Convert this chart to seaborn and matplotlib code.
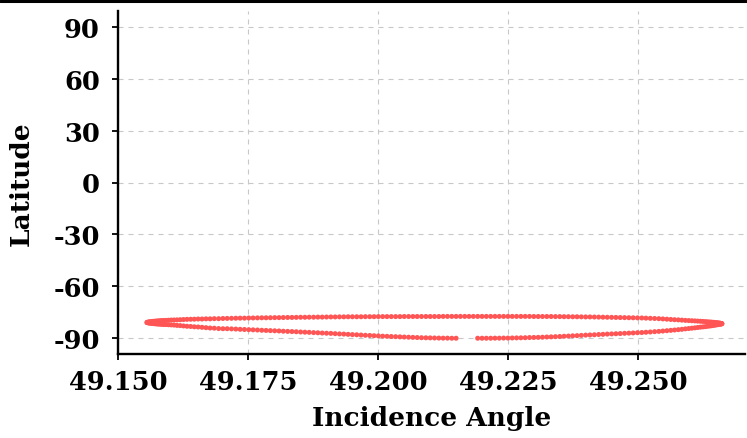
import numpy as np
import pandas as pd
import matplotlib
matplotlib.use("Agg")
import matplotlib.pyplot as plt
from matplotlib.lines import Line2D
import seaborn as sns

# ---------------- data ----------------
incidence = [
    49.15558, 49.15568, 49.15581, 49.15596, 49.15616, 49.15639, 49.15664, 49.15693, 49.15723, 49.15758,
    49.15795, 49.15835, 49.15877, 49.15923, 49.15972, 49.16023, 49.16077, 49.16135, 49.16196, 49.16260,
    49.16327, 49.16397, 49.16468, 49.16541, 49.16616, 49.16693, 49.16771, 49.16852, 49.16935, 49.17018,
    49.17100, 49.17183, 49.17266, 49.17349, 49.17432, 49.17515, 49.17598, 49.17682, 49.17765, 49.17848,
    49.17931, 49.18014, 49.18097, 49.18180, 49.18263, 49.18346, 49.18429, 49.18512, 49.18595, 49.18678,
    49.18762, 49.18845, 49.18928, 49.19011, 49.19094, 49.19177, 49.19260, 49.19343, 49.19426, 49.19509,
    49.19592, 49.19675, 49.19758, 49.19842, 49.19925, 49.20008, 49.20091, 49.20174, 49.20257, 49.20340,
    49.20423, 49.20506, 49.20589, 49.20672, 49.20755, 49.20838, 49.20922, 49.21005, 49.21088, 49.21171,
    49.21254, 49.21337, 49.21420, 49.21503, 49.21586, 49.21669, 49.21752, 49.21835, 49.21918, 49.22002,
    49.22085, 49.22168, 49.22251, 49.22334, 49.22417, 49.22500, 49.22583, 49.22666, 49.22749, 49.22832,
    49.22915, 49.22998, 49.23082, 49.23165, 49.23248, 49.23331, 49.23414, 49.23497, 49.23580, 49.23663,
    49.23746, 49.23829, 49.23912, 49.23995, 49.24078, 49.24162, 49.24245, 49.24328, 49.24411, 49.24494,
    49.24577, 49.24660, 49.24743, 49.24826, 49.24909, 49.24992, 49.25075,
    49.25155, 49.25238, 49.25321, 49.25402, 49.25480, 49.25557, 49.25632, 49.25705, 49.25777, 49.25846,
    49.25913, 49.25977, 49.26038, 49.26096, 49.26150, 49.26202, 49.26250, 49.26296, 49.26338, 49.26379,
    49.26415, 49.26450, 49.26480, 49.26509, 49.26534, 49.26557, 49.26577, 49.26592, 49.26605, 49.26615,
]

latitude_upper = [
    -80.8, -80.7, -80.6, -80.5, -80.4, -80.3, -80.2, -80.1, -80.0, -79.9,
    -79.8, -79.7, -79.65, -79.6, -79.5, -79.4, -79.35, -79.3, -79.2, -79.1,
    -79.0, -78.95, -78.9, -78.8, -78.8, -78.7, -78.7, -78.6, -78.6, -78.5,
    -78.45, -78.4, -78.35, -78.3, -78.3, -78.2, -78.2, -78.15, -78.1, -78.1,
    -78.05, -78.0, -78.0, -77.95, -77.9, -77.9, -77.85, -77.8, -77.8, -77.75,
    -77.75, -77.7, -77.7, -77.65, -77.6, -77.6, -77.55, -77.55, -77.5, -77.5,
    -77.5, -77.5, -77.45, -77.45, -77.45, -77.4, -77.4, -77.4, -77.4, -77.4,
    -77.4, -77.35, -77.35, -77.35, -77.35, -77.35, -77.35, -77.35, -77.35, -77.35,
    -77.3, -77.3, -77.3, -77.3, -77.3, -77.3, -77.3, -77.3, -77.3, -77.3,
    -77.3, -77.3, -77.3, -77.3, -77.3, -77.3, -77.3, -77.3, -77.3, -77.3,
    -77.3, -77.35, -77.35, -77.35, -77.35, -77.35, -77.4, -77.4, -77.45, -77.45,
    -77.5, -77.5, -77.55, -77.6, -77.6, -77.65, -77.7, -77.75, -77.8, -77.85,
    -77.9, -77.95, -78.0, -78.05, -78.1, -78.15, -78.2,
    -78.3, -78.4, -78.5, -78.6, -78.75, -78.9, -79.05, -79.2, -79.3, -79.45,
    -79.6, -79.7, -79.8, -79.9, -80.0, -80.1, -80.2, -80.3, -80.4, -80.5,
    -80.6, -80.7, -80.8, -80.9, -81.0, -81.1, -81.2, -81.3, -81.4, -81.5,
]

latitude_lower = [
    -80.8, -80.9, -81.0, -81.1, -81.2, -81.3, -81.4, -81.5, -81.6, -81.7,
    -81.8, -81.9, -82.0, -82.0, -82.1, -82.2, -82.3, -82.5, -82.6, -82.8,
    -83.0, -83.1, -83.3, -83.4, -83.6, -83.8, -84.0, -84.1, -84.3, -84.4,
    -84.4, -84.5, -84.6, -84.75, -84.85, -84.95, -85.05, -85.15, -85.3, -85.4,
    -85.5, -85.6, -85.7, -85.85, -85.95, -86.05, -86.15, -86.3, -86.4, -86.5,
    -86.65, -86.75, -86.9, -87.0, -87.1, -87.25, -87.4, -87.5, -87.65, -87.8,
    -87.9, -88.05, -88.2, -88.3, -88.45, -88.55, -88.7, -88.8, -88.9, -89.0,
    -89.1, -89.2, -89.3, -89.4, -89.5, -89.6, -89.65, -89.7, -89.75, -89.8,
    -89.85, -89.85, -89.9, -89.9, np.nan, np.nan, np.nan, np.nan, -89.9, -89.9,
    -89.9, -89.9, -89.85, -89.85, -89.8, -89.8, -89.75, -89.7, -89.65, -89.6,
    -89.5, -89.45, -89.4, -89.3, -89.2, -89.1, -89.0, -88.9, -88.75, -88.65,
    -88.5, -88.4, -88.25, -88.1, -88.0, -87.9, -87.75, -87.65, -87.5, -87.4,
    -87.3, -87.2, -87.05, -86.95, -86.85, -86.7, -86.6,
    -86.45, -86.3, -86.1, -85.95, -85.75, -85.55, -85.35, -85.15, -84.95, -84.75,
    -84.5, -84.3, -84.1, -83.9, -83.7, -83.5, -83.35, -83.2, -83.0, -82.85,
    -82.7, -82.5, -82.35, -82.2, -82.05, -81.9, -81.8, -81.7, -81.6, -81.5,
]

x_ticks = [49.150, 49.175, 49.200, 49.225, 49.250]
y_ticks = [-90, -60, -30, 0, 30, 60, 90]

# ---------------- styling ----------------
sns.set_style("ticks")
plt.rcParams["font.family"] = ["DejaVu Serif"]
plt.rcParams["font.weight"] = "bold"

df = pd.DataFrame({
    "Incidence Angle": incidence + incidence,
    "Latitude": latitude_upper + latitude_lower,
})

fig = plt.figure(figsize=(7.47, 4.39), dpi=100)
ax = fig.add_axes([118 / 747, 1 - 355 / 439, (745 - 118) / 747, (355 - 12) / 439])

sns.scatterplot(data=df, x="Incidence Angle", y="Latitude", ax=ax,
                color="#ff5555", s=13, linewidth=0, edgecolor="none", zorder=3)

ax.set_xlim(49.150, 49.2706)
ax.set_ylim(-99, 99)
ax.set_xticks(x_ticks)
ax.set_xticklabels([f"{v:.3f}" for v in x_ticks])
ax.set_yticks(y_ticks)
ax.set_yticklabels([str(v) for v in y_ticks])

ax.grid(True, color="#c8c8c8", linestyle=(0, (4.5, 4.5)), linewidth=0.8)

for side in ("top", "right"):
    ax.spines[side].set_visible(False)
for side in ("left", "bottom"):
    ax.spines[side].set_color("black")
    ax.spines[side].set_linewidth(1.7)

ax.tick_params(axis="both", direction="out", length=4.5, width=1.3, color="black",
               labelsize=18.5, labelcolor="black")
ax.tick_params(axis="y", pad=8.5)
ax.tick_params(axis="x", pad=6)
for lab in ax.get_xticklabels() + ax.get_yticklabels():
    lab.set_fontweight("bold")

ax.set_xlabel("Incidence Angle", fontsize=19, fontweight="bold", color="black", labelpad=8)
ax.set_ylabel("Latitude", fontsize=19, fontweight="bold", color="black", labelpad=14)

fig.add_artist(Line2D([0, 1], [1 - 1.5 / 439, 1 - 1.5 / 439], transform=fig.transFigure,
                      color="black", linewidth=2.2))

fig.savefig("out.png", dpi=100)
